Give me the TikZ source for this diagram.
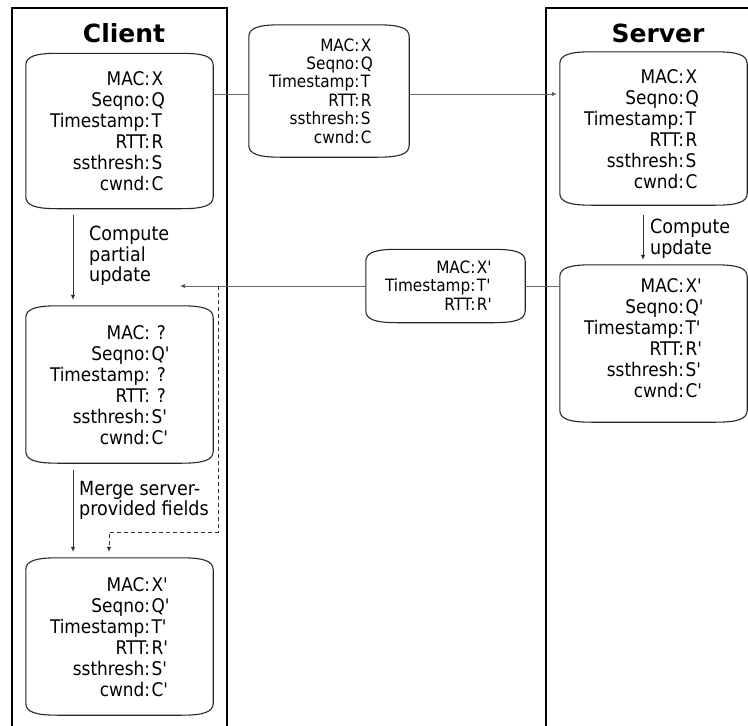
\documentclass[tikz,border=0pt]{standalone}
\usepackage{fontspec}
\newfontfamily\dvs{DejaVu Sans}
\newfontfamily\dvc{DejaVu Sans Condensed}
\usetikzlibrary{arrows.meta,calc}

% field table: label right-aligned, colon, value left-aligned
\newcommand\fieldrows[1]{\begin{tabular}{@{}r@{:\hspace{1.5pt}}l@{}}#1\end{tabular}}
\newcommand\pr{'}

% rounded "tape" outline round a rectangle node
\newcommand\tapeoutline[1]{%
  \draw[outline]
    ($(#1.north west)+(0,12)$)
      .. controls ($(#1.north west)+(0,3)$) and ($(#1.north west)+(10,0)$) .. ($(#1.north west)+(32,0)$)
    -- ($(#1.north east)+(-32,0)$)
      .. controls ($(#1.north east)+(-10,0)$) and ($(#1.north east)+(0,3)$) .. ($(#1.north east)+(0,12)$)
    -- ($(#1.south east)+(0,-12)$)
      .. controls ($(#1.south east)+(0,-3)$) and ($(#1.south east)+(-10,0)$) .. ($(#1.south east)+(-32,0)$)
    -- ($(#1.south west)+(32,0)$)
      .. controls ($(#1.south west)+(10,0)$) and ($(#1.south west)+(0,-3)$) .. ($(#1.south west)+(0,-12)$)
    -- cycle;}

\tikzset{
  lane/.style={line width=1.6pt, black},
  lanetitle/.style={inner sep=0pt, font=\dvs\fontsize{25}{30}\selectfont\bfseries},
  frame/.style n args={2}{shape=rectangle, draw=none, inner sep=0pt,
    minimum width=#1, minimum height=#2},
  outline/.style={draw=black!85, line width=1.1pt},
  fields/.style={inner sep=0pt, anchor=west, font=\dvc\fontsize{18.8}{21}\selectfont},
  msgfields/.style={inner sep=0pt, anchor=west, font=\dvc\fontsize{17}{18.4}\selectfont},
  steplabel/.style={inner sep=0pt, anchor=north west, align=left,
    font=\dvc\fontsize{19.5}{20.5}\selectfont},
  conn/.style={draw=black!60, line width=0.8pt},
  arr/.style={conn, -{Latex[length=5pt,width=4.5pt,fill=black]}},
  dasharr/.style={draw=black!80, line width=0.8pt, dash pattern=on 4pt off 3pt,
    -{Latex[length=5pt,width=4.5pt,fill=black]}},
}

\begin{document}
\begin{tikzpicture}[x=1pt,y=-1pt]
\useasboundingbox (0,0) rectangle (748,726);
\fill[white] (0,0) rectangle (748,726);

% swim lanes
\draw[lane] (12,726) -- (12,8) -- (227,8) -- (227,726);
\draw[lane] (546,726) -- (546,8) -- (748,8);
\node[lanetitle] (client) at (124,33) {Client};
\node[lanetitle] (server) at (658,33) {Server};

% state boxes
\node[frame={187pt}{155pt}] (c1) at (119.5,131) {};
\node[frame={187pt}{157pt}] (c2) at (119.5,384.5) {};
\node[frame={187pt}{157pt}] (c3) at (119.5,636.5) {};
\node[frame={187pt}{153pt}] (s1) at (653.5,128.5) {};
\node[frame={187pt}{157pt}] (s2) at (653.5,343.5) {};
\node[frame={160pt}{132pt}] (m1) at (329,91) {};
\node[frame={159pt}{73pt}] (m2) at (445.5,286) {};
\foreach \b in {c1,c2,c3,s1,s2,m1,m2} {\tapeoutline{\b}}

\node[fields] (c1f) at ([xshift=24pt,yshift=-3pt]c1.west)
  {\fieldrows{MAC&X\\Seqno&Q\\Timestamp&T\\RTT&R\\ssthresh&S\\cwnd&C}};
\node[fields] (c2f) at ([xshift=24pt,yshift=-3pt]c2.west)
  {\fieldrows{MAC&\ ?\\Seqno&Q\pr\\Timestamp&\ ?\\RTT&\ ?\\ssthresh&S\pr\\cwnd&C\pr}};
\node[fields] (c3f) at ([xshift=24pt,yshift=-3pt]c3.west)
  {\fieldrows{MAC&X\pr\\Seqno&Q\pr\\Timestamp&T\pr\\RTT&R\pr\\ssthresh&S\pr\\cwnd&C\pr}};
\node[fields] (s1f) at ([xshift=24pt,yshift=-3pt]s1.west)
  {\fieldrows{MAC&X\\Seqno&Q\\Timestamp&T\\RTT&R\\ssthresh&S\\cwnd&C}};
\node[fields] (s2f) at ([xshift=24pt,yshift=2.5pt]s2.west)
  {\fieldrows{MAC&X\pr\\Seqno&Q\pr\\Timestamp&T\pr\\RTT&R\pr\\ssthresh&S\pr\\cwnd&C\pr}};
\node[msgfields] (m1f) at ([xshift=20pt,yshift=-2.5pt]m1.west)
  {\fieldrows{MAC&X\\Seqno&Q\\Timestamp&T\\RTT&R\\ssthresh&S\\cwnd&C}};
\node[msgfields] (m2f) at ([xshift=19pt,yshift=-2pt]m2.west)
  {\fieldrows{MAC&X\pr\\Timestamp&T\pr\\RTT&R\pr}};

% step labels
\node[steplabel] (lpartial) at (89,226) {Compute\\partial\\update};
\node[steplabel] (lmerge) at (79,481) {Merge server-\\provided fields};
\node[steplabel] (lupdate) at (650,219) {Compute\\update};

% client to server message
\draw[conn] ([yshift=-3pt]m1.west -| c1.east) -- ([yshift=-3pt]m1.west);
\draw[arr, shorten >=3pt] ([yshift=-3pt]m1.east) -- ([yshift=-3pt]m1.east -| s1.west);

% server reply
\coordinate (recv) at (180,286);
\draw[conn] (m2.east -| s2.west) -- (m2.east);
\draw[arr] (m2.west) -- (m2.west -| recv);

% merge path of the server-provided fields
\coordinate (tap) at (218,532);
\coordinate (drop) at (109,532);
\draw[dasharr, shorten >=6pt] (tap |- m2.west) -- (tap) -- (drop) -- (drop |- c3.north);

% local steps
\draw[arr, draw=black!80] ([xshift=-46.5pt,yshift=-6.5pt]c1.south) -- ([xshift=-46.5pt,yshift=6pt]c2.north);
\draw[arr, draw=black!80] ([xshift=-46.5pt,yshift=-7pt]c2.south) -- ([xshift=-46.5pt,yshift=6pt]c3.north);
\draw[arr, draw=black!80] ([xshift=-10.5pt,yshift=-10pt]s1.south) -- ([xshift=-10.5pt,yshift=5pt]s2.north);
\end{tikzpicture}
\end{document}
